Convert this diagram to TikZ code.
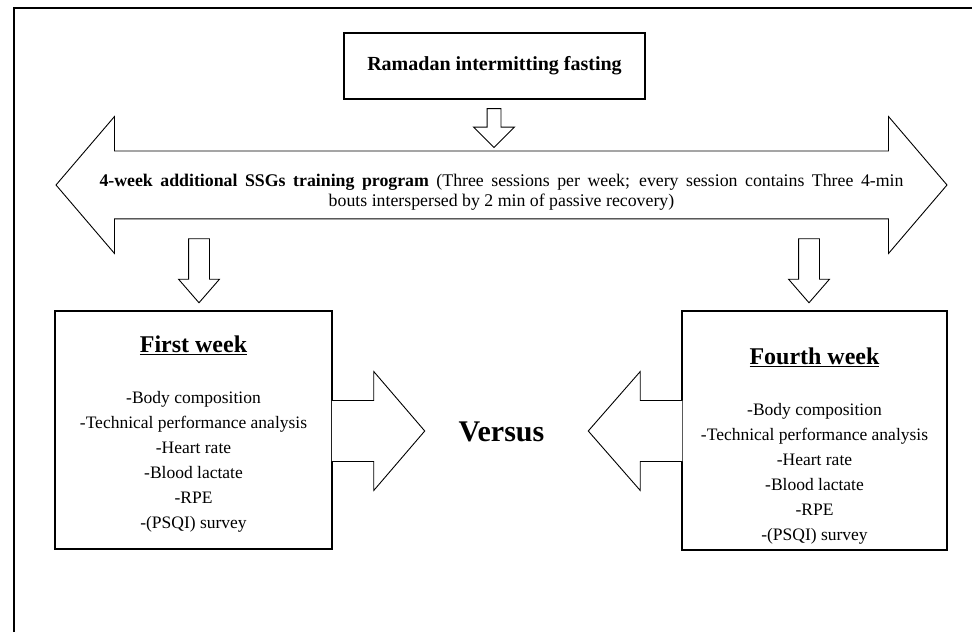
\documentclass[tikz,border=0pt]{standalone}
\usepackage{fontspec}
\setmainfont{Liberation Serif}
\usepackage{tikz}
\usetikzlibrary{positioning,calc,shapes.arrows}
\tikzset{box/.style={draw,line width=1.5pt,inner sep=0pt},
         blockarrow/.style={draw,fill=white,line width=0.9pt,line join=miter},
         downarrow/.style={blockarrow,single arrow,shape border rotate=270,inner sep=10pt,
           single arrow head extend=10pt,minimum height=64pt,single arrow tip angle=82},
         listtext/.style={inner sep=0pt,align=center,font=\fontsize{17.5}{25}\selectfont}
}

\begin{document}
\begin{tikzpicture}[x=1pt,y=1pt]
  \useasboundingbox (0,0) rectangle (972,632);
  \draw[line width=1.8pt] (14,0) |- (972,624);
  \node[box,line width=1.2pt,minimum width=301pt,minimum height=66pt,
        font=\fontsize{20}{22}\selectfont\bfseries] (ramadan) at (494.5,566) {Ramadan intermitting fasting};
  \node[blockarrow,single arrow,shape border rotate=270,inner sep=6.5pt,
        single arrow head extend=13.5pt,minimum height=39pt] (top) at ($(ramadan.south)+(-0.5,-25)$) {};
  \node[blockarrow,double arrow,inner xsep=0pt,inner ysep=33.5pt,minimum height=891pt,
        double arrow head extend=34.5pt,double arrow tip angle=99] (prog) at (501.5,447) {};
  \node[inner sep=0pt,align=center,font=\fontsize{17.8}{20}\selectfont] (progtxt) at ($(prog)+(0,-7)$)
    {\makebox[804pt][s]{\textbf{4-week additional SSGs training program} (Three sessions per week; every session contains Three 4-min}\\
     bouts interspersed by 2 min of passive recovery)};
  \node[box,minimum width=277pt,minimum height=238pt] (first) at (193.5,202) {};
  \node[box,minimum width=265pt,minimum height=239pt] (fourth) at (814.5,201.5) {};
  \node[downarrow] (a1) at ($(first.north)+(5.5,45.5)$) {};
  \node[downarrow] (a2) at ($(fourth.north)+(-5.5,45.5)$) {};
  \node[listtext,below=25pt of first.north] (firsttxt)
    {{\fontsize{24}{26}\selectfont\bfseries\underline{First week}}\\[26pt]
     -Body composition\\-Technical performance analysis\\-Heart rate\\-Blood lactate\\-RPE\\-(PSQI) survey};
  \node[listtext,below=37pt of fourth.north] (fourthtxt)
    {{\fontsize{24}{26}\selectfont\bfseries\underline{Fourth week}}\\[26pt]
     -Body composition\\-Technical performance analysis\\-Heart rate\\-Blood lactate\\-RPE\\-(PSQI) survey};
  \node[font=\fontsize{30}{32}\selectfont\bfseries] (vs) at (501.5,200) {Versus};
  \draw[blockarrow] ([xshift=-1pt,yshift=29.5pt]first.east) -- ++(42,0) -- ++(0,29) -- ++(51,-59.5)
    -- ++(-51,-59.5) -- ++(0,29) -- ++(-42,0);
  \draw[blockarrow] ([xshift=1pt,yshift=30pt]fourth.west) -- ++(-42,0) -- ++(0,29) -- ++(-52,-59.5)
    -- ++(52,-59.5) -- ++(0,29) -- ++(42,0);
\end{tikzpicture}
\end{document}
